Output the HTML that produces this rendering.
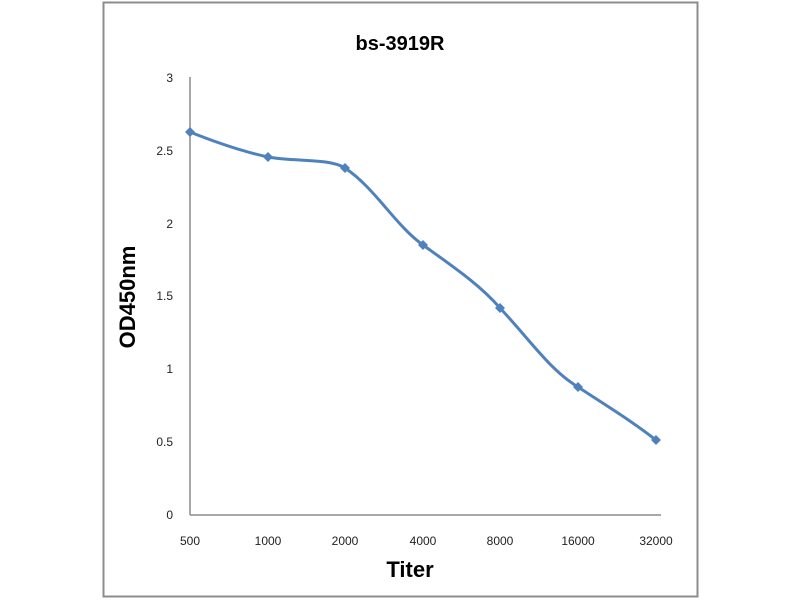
<!DOCTYPE html>
<html><head><style>body{margin:0;background:#fff}</style></head><body>
<svg width="800" height="600" xmlns="http://www.w3.org/2000/svg" font-family="Liberation Sans, sans-serif">
<rect x="103.5" y="2.5" width="594" height="594" fill="#fff" stroke="#8c8c8c" stroke-width="2"/>
<text x="400" y="50" font-size="20" font-weight="bold" text-anchor="middle">bs-3919R</text>
<line x1="190" y1="77" x2="190" y2="515" stroke="#8c8c8c" stroke-width="1.5"/>
<line x1="190" y1="515" x2="661" y2="515" stroke="#8c8c8c" stroke-width="1.5"/>
<g font-size="12" text-anchor="end" fill="#222">
<text x="173" y="82">3</text><text x="173" y="155">2.5</text><text x="173" y="228">2</text>
<text x="173" y="300">1.5</text><text x="173" y="373">1</text><text x="173" y="446">0.5</text><text x="173" y="519">0</text>
</g>
<g font-size="12" text-anchor="middle" fill="#222">
<text x="190" y="545">500</text><text x="268" y="545">1000</text><text x="345" y="545">2000</text>
<text x="423" y="545">4000</text><text x="500" y="545">8000</text><text x="578" y="545">16000</text><text x="656" y="545">32000</text>
</g>
<text x="410" y="577" font-size="22" font-weight="bold" text-anchor="middle">Titer</text>
<text transform="translate(135,297) rotate(-90)" font-size="22" font-weight="bold" text-anchor="middle">OD450nm</text>
<path d="M190,132 C220,144 245,152 268,157 C295,162 330,158 345,168 C375,188 395,225 423,245 C455,268 480,285 500,308 C530,340 550,370 578,387 C610,408 630,420 656,440" fill="none" stroke="#4f81bd" stroke-width="3"/>
<g fill="#4f81bd">
<path d="M190,127 l5,5 l-5,5 l-5,-5z"/><path d="M268,152 l5,5 l-5,5 l-5,-5z"/><path d="M345,163 l5,5 l-5,5 l-5,-5z"/>
<path d="M423,240 l5,5 l-5,5 l-5,-5z"/><path d="M500,303 l5,5 l-5,5 l-5,-5z"/><path d="M578,382 l5,5 l-5,5 l-5,-5z"/>
<path d="M656,435 l5,5 l-5,5 l-5,-5z"/>
</g>
</svg>
</body></html>
